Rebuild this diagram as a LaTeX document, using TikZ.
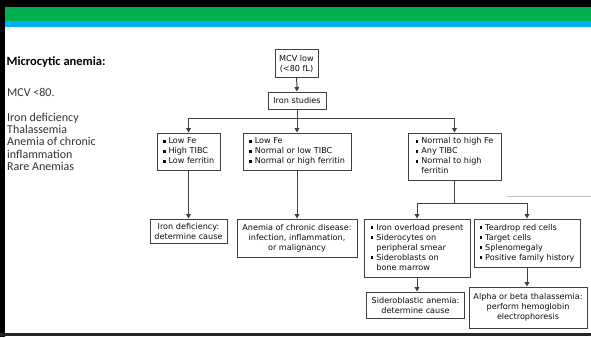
\documentclass[tikz,border=0pt]{standalone}
\usepackage{fontspec}
\setmainfont{Carlito}
\newfontfamily\flowfont{DejaVu Sans}
\usetikzlibrary{arrows.meta}
\newcommand\fbul{\rule[1pt]{2.7pt}{2.7pt}}
\newcommand\blist[1]{\begin{tabular}{@{}l@{\hspace{3pt}}l@{}}#1\end{tabular}}
\definecolor{bandgreen}{HTML}{00B050}
\definecolor{bandcyan}{HTML}{00B0F0}
\begin{document}
\begin{tikzpicture}[x=1pt,y=-1pt,
  box/.style={draw=black!75, line width=1pt, fill=white, inner sep=0pt,
    font=\flowfont\fontsize{8.1}{10}\selectfont, text=black!95, align=center},
  arr/.style={draw=black!75, line width=1pt, -{Triangle[length=4.5pt,width=4.8pt]}},
  ln/.style={draw=black!75, line width=1pt},
  lefttext/.style={anchor=base west, inner sep=0pt, text=black!80, font=\fontsize{12}{12.3}\selectfont}]
\useasboundingbox (0,0) rectangle (591,337);
% frame and bands
\fill[black] (0,0) rectangle (591,7);
\fill[bandgreen] (5,7) rectangle (591,21);
\fill[bandcyan] (5,21) rectangle (591,27);
\fill[black] (0,0) rectangle (5,337);
\fill[black!85] (0,332.5) rectangle (591,336);
\draw[black!25, line width=0.6pt] (507,196) -- (591,196);
% left text
\node[anchor=base west, inner sep=0pt, font=\bfseries\fontsize{12.5}{12}\selectfont] (title) at (6.5,66) {Microcytic anemia:};
\node[lefttext] (mcvt) at (7,96) {MCV <80.};
\node[lefttext] (l1) at (7,121.5) {Iron deficiency};
\node[lefttext] (l2) at (7,133.7) {Thalassemia};
\node[lefttext] (l3) at (7,145.9) {Anemia of chronic};
\node[lefttext] (l4) at (7,158.1) {inflammation};
\node[lefttext] (l5) at (7,170.3) {Rare Anemias};
% flowchart boxes
\node[box, minimum width=43, minimum height=27] (mcv) at (296.5,63.5) {MCV low\\(<80 fL)};
\node[box, minimum width=58, minimum height=17] (iron) at (297,100.5) {Iron studies};
\node[box, minimum width=63, minimum height=37] (b1) at (188.5,151.5)
  {\blist{\fbul & Low Fe\\ \fbul & High TIBC\\ \fbul & Low ferritin}};
\node[box, minimum width=108, minimum height=37] (b2) at (297,151.5)
  {\blist{\fbul & Low Fe\\ \fbul & Normal or low TIBC\\ \fbul & Normal or high ferritin}};
\node[box, minimum width=93, minimum height=47] (b3) at (454.5,156.5)
  {\blist{\fbul & Normal to high Fe\\ \fbul & Any TIBC\\ \fbul & Normal to high\\ & ferritin}};
\node[box, minimum width=77, minimum height=24] (b8) at (188.5,231) {Iron deficiency:\\determine cause};
\node[box, minimum width=120, minimum height=38] (b9) at (297,238) {Anemia of chronic disease:\\infection, inflammation,\\or malignancy};
\node[box, minimum width=106, minimum height=58] (b4) at (417,248)
  {\blist{\fbul & Iron overload present\\ \fbul & Siderocytes on\\ & peripheral smear\\ \fbul & Sideroblasts on\\ & bone marrow}};
\node[box, minimum width=106, minimum height=48] (b5) at (527,243)
  {\blist{\fbul & Teardrop red cells\\ \fbul & Target cells\\ \fbul & Splenomegaly\\ \fbul & Positive family history}};
\node[box, minimum width=98, minimum height=26] (b6) at (415.5,305) {Sideroblastic anemia:\\determine cause};
\node[box, minimum width=118, minimum height=41] (b7) at (528,307.5) {Alpha or beta thalassemia:\\perform hemoglobin\\electrophoresis};
% connectors
\coordinate (j1) at (297,118);
\coordinate (j2) at (454.5,203);
\draw[arr] (mcv) -- (iron);
\draw[ln] (iron) -- (j1);
\draw[ln] (b1.north |- j1) -- (b3.north |- j1);
\draw[arr] (b1.north |- j1) -- (b1.north);
\draw[arr] (j1) -- (b2.north);
\draw[arr] (b3.north |- j1) -- (b3.north);
\draw[arr] (b1) -- (b8);
\draw[arr] (b2) -- (b9);
\draw[ln] (b3) -- (j2);
\draw[ln] (b4.north |- j2) -- (b5.north |- j2);
\draw[arr] (b4.north |- j2) -- (b4.north);
\draw[arr] (b5.north |- j2) -- (b5.north);
\draw[arr] (b4.south) -- (b4.south |- b6.north);
\draw[arr] (b5.south) -- (b5.south |- b7.north);
\end{tikzpicture}
\end{document}
